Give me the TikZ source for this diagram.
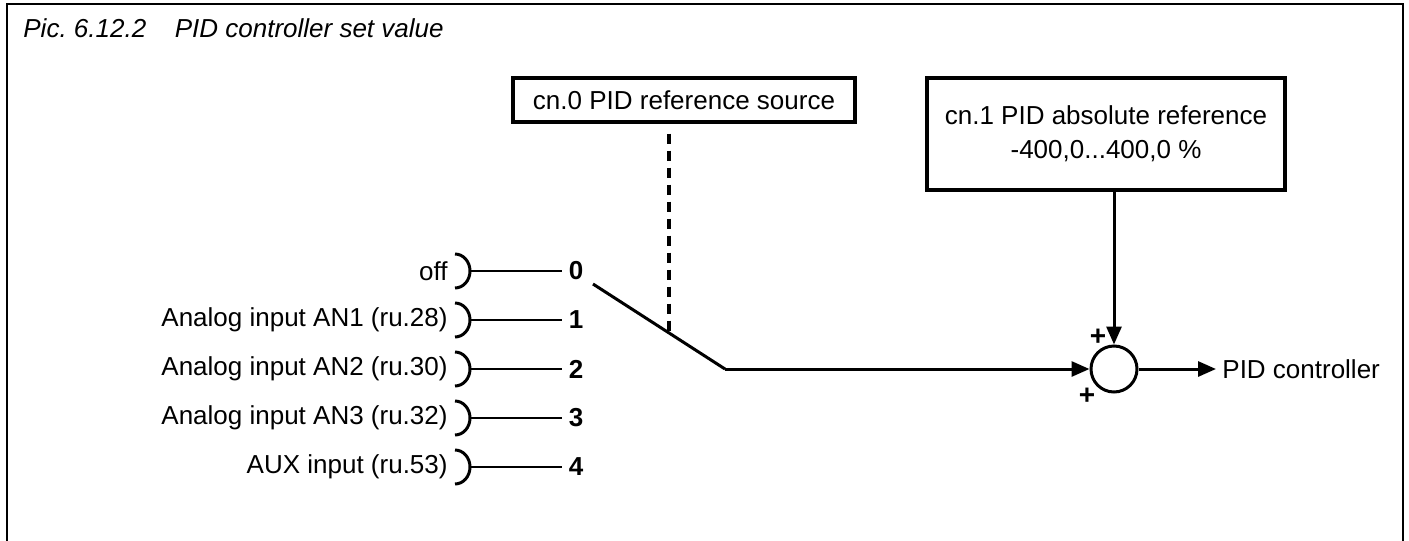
\documentclass[tikz,border=0pt]{standalone}
\usepackage{fontspec}
\setmainfont{Liberation Sans}
\usepackage{tikz}
\usetikzlibrary{arrows.meta}
\frenchspacing

\begin{document}
\begin{tikzpicture}[
  x=0.5pt, y=-0.5pt,
  txt/.style={font=\fontsize{13}{16.8}\selectfont, inner sep=0pt},
  box/.style={txt, draw, line width=1.6pt, align=center},
  lbl/.style={txt, anchor=east},
  num/.style={txt, font=\fontsize{13}{16.8}\selectfont\bfseries, inner sep=3pt},
  pm/.style={txt, font=\fontsize{14}{16}\selectfont\bfseries},
  wire/.style={line width=0.7pt},
  brk/.style={line width=1.5pt},
  line/.style={line width=1.5pt},
  arr/.style={line, -{Triangle[length=9pt,width=7.5pt]}},
  sel/.style={line width=1.6pt, dash pattern=on 5pt off 3.5pt}
]
\useasboundingbox (0,0) rectangle (1409,541);
\draw[line width=1.1pt] (7,541) |- (1403,4) -- (1403,541);
\node[txt, anchor=base west, font=\fontsize{13}{16.8}\selectfont\itshape] (cap) at (23,37)
  {Pic. 6.12.2\hspace*{1.1em}PID controller set value};
\node[box, minimum width=171pt, minimum height=22pt] (src) at (684,100)
  {cn.0 PID reference source};
\node[box, minimum width=179pt, minimum height=56pt] (absref) at (1106,134)
  {cn.1 PID absolute reference\\-400,0...400,0 \%};
\foreach \lbl [count=\i from 0] in {off, Analog input AN1 (ru.28), Analog input AN2 (ru.30),
    Analog input AN3 (ru.32), AUX input (ru.53)} {
  \pgfmathsetmacro\ry{271+49*\i}
  \node[lbl] (in\i) at (448,\ry) {\lbl};
  \node[num] (pos\i) at (576,\ry) {\i};
  \draw[brk] (455,\ry-17) arc[start angle=90, end angle=-90, x radius=7.5pt, y radius=8.5pt];
  \coordinate (tap\i) at (470,\ry);
  \draw[wire] (tap\i) -- (pos\i);
}
\node[circle, draw, line width=1.5pt, minimum size=23pt, inner sep=0pt] (sum) at (1114,369) {};
\node[pm] (plusa) at (1098,337) {+};
\node[pm] (plusb) at (1087,396) {+};
\node[txt, anchor=west, inner sep=3pt] (pidctl) at (1216,369) {PID controller};
\coordinate (pole) at (593,284);
\coordinate (knee) at (725,369);
\coordinate (act) at (669,333);
\draw[line] (pole) -- (knee);
\draw[arr] (knee) -- (sum.west);
\draw[sel] (src.south -| act) ++(0,10) -- (act);
\draw[arr] (sum.north |- absref.south) -- (sum.north);
\draw[arr] (sum.east) -- (pidctl.west);
\end{tikzpicture}
\end{document}
